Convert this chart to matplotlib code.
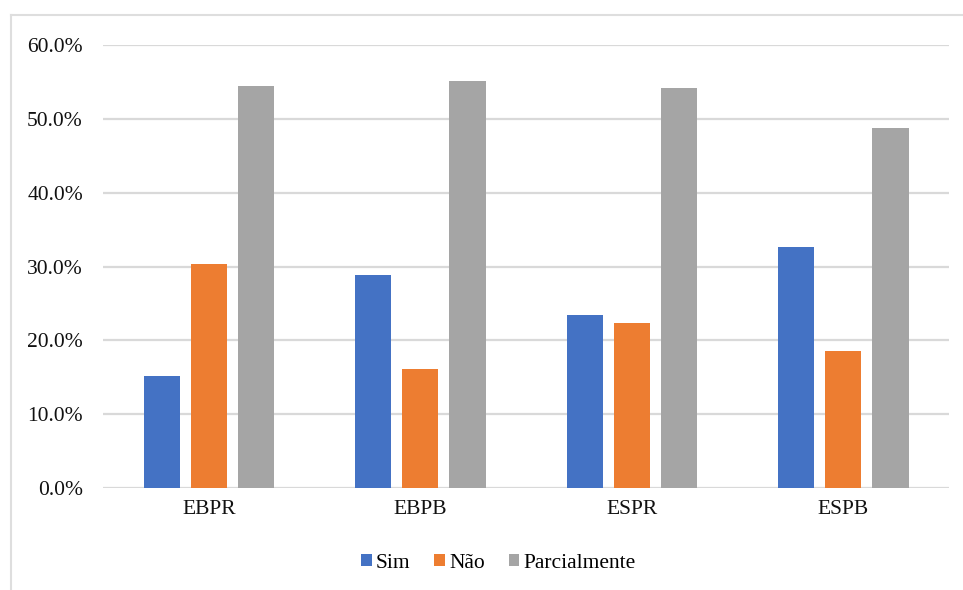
import numpy as np
import matplotlib.pyplot as plt
from matplotlib.lines import Line2D
from matplotlib.ticker import FuncFormatter

SAVEFIG = 'out.png'

categories = ['EBPR', 'EBPB', 'ESPR', 'ESPB']
sim = [0.152, 0.288, 0.234, 0.326]
nao = [0.304, 0.161, 0.223, 0.185]
parcialmente = [0.544, 0.551, 0.542, 0.488]
series_names = ['Sim', 'Não', 'Parcialmente']
colors = ['#4472C4', '#ED7D31', '#A5A5A5']


def main():
    plt.rcParams['font.family'] = ['Liberation Serif', 'DejaVu Serif']

    fig = plt.figure(figsize=(9.63, 5.9), dpi=100)
    ax = fig.add_axes([0.107, 0.1729, 0.8785, 0.7508])

    x = np.arange(len(categories))
    width = 0.171
    step = 0.223
    for i, (vals, name, c) in enumerate(zip([sim, nao, parcialmente], series_names, colors)):
        ax.bar(x + (i - 1) * step, vals, width, color=c, label=name, zorder=3)

    ax.set_xlim(-0.5, len(categories) - 0.5)
    ax.set_ylim(0, 0.6)
    ax.set_yticks(np.arange(0, 0.61, 0.1))
    ax.yaxis.set_major_formatter(FuncFormatter(lambda v, _: f'{v * 100:.1f}%'))
    ax.set_xticks(x)
    ax.set_xticklabels(categories)
    ax.tick_params(axis='both', length=0, labelsize=15.5, labelcolor='#111111')
    ax.tick_params(axis='y', pad=14.5)
    ax.tick_params(axis='x', pad=8.5)
    ax.grid(axis='y', color='#d9d9d9', linewidth=1.6, zorder=0)
    for s in ax.spines.values():
        s.set_visible(False)

    ax.legend(loc='center', bbox_to_anchor=(0.5175, 0.045), bbox_transform=fig.transFigure,
              ncol=3, frameon=False, fontsize=15.5, handlelength=0.5, handleheight=0.5,
              handletextpad=0.2, columnspacing=1.1)

    # outer chart frame (top and left edges)
    fig.add_artist(Line2D([0.0118, 1.0], [0.974, 0.974], color='#dedede', lw=1.5, transform=fig.transFigure))
    fig.add_artist(Line2D([0.0118, 0.0118], [0.0, 0.974], color='#dedede', lw=1.5, transform=fig.transFigure))

    plt.savefig(SAVEFIG, dpi=100)
    plt.close()


if __name__ == '__main__':
    main()
